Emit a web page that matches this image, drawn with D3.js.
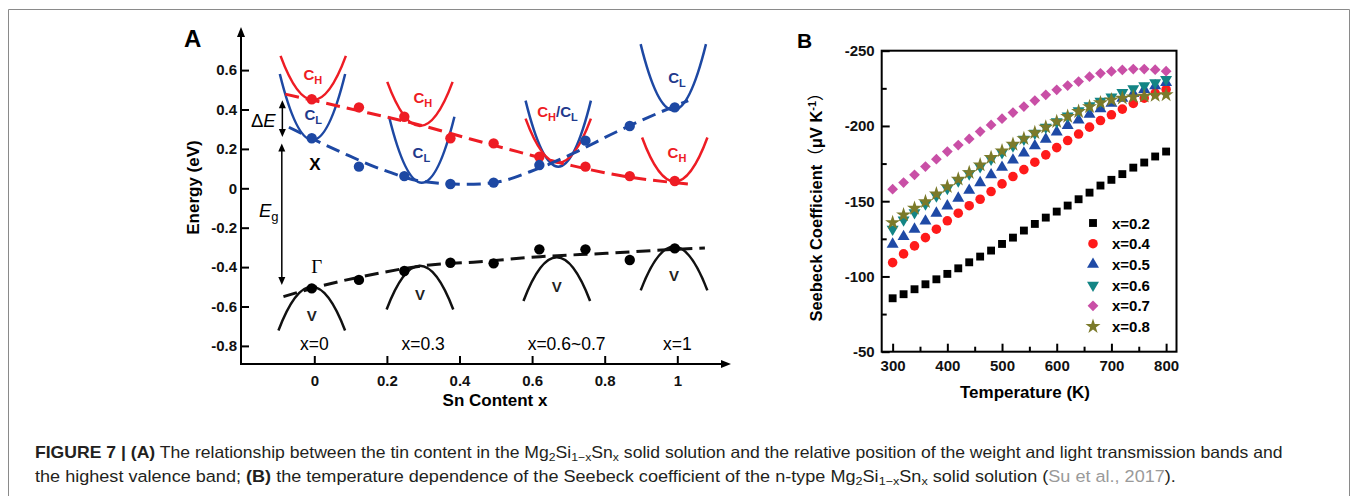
<!DOCTYPE html>
<html><head><meta charset="utf-8">
<script src="https://cdn.jsdelivr.net/npm/d3@7"></script>
<style>
body{margin:0;background:#fff;}
svg{display:block;font-family:"Liberation Sans",Arial,Helvetica,sans-serif;}
</style></head><body>
<svg id="c" width="1356" height="496"></svg>
<script>
// ================= DATA =================
// Panel A : band energies (eV) vs Sn content x
const snContent  = [-0.007, 0.123, 0.248, 0.375, 0.494, 0.620, 0.747, 0.869, 0.993];
const heavyCB    = [0.452, 0.411, 0.363, 0.254, 0.228, 0.160, 0.110, 0.062, 0.037];
const lightCB    = [0.254, 0.110, 0.062, 0.022, 0.029, 0.118, 0.242, 0.316, 0.411];
const valenceB   = [-0.508, -0.465, -0.420, -0.378, -0.381, -0.310, -0.310, -0.364, -0.305];
// dashed guide curves (x, E)
const heavyFitX  = [-0.08, 0.00, 0.15, 0.29, 0.43, 0.56, 0.71, 0.86, 1.03];
const heavyFitE  = [0.478, 0.445, 0.382, 0.322, 0.250, 0.186, 0.115, 0.059, 0.022];
const lightFitX  = [-0.07, 0.08, 0.19, 0.30, 0.42, 0.50, 0.594, 0.714, 0.833, 0.99, 1.03];
const lightFitE  = [0.310, 0.178, 0.093, 0.034, 0.020, 0.030, 0.084, 0.178, 0.287, 0.415, 0.445];
const valFitX    = [-0.085, 0.00, 0.153, 0.319, 0.438, 0.622, 0.805, 0.989, 1.076];
const valFitE    = [-0.550, -0.505, -0.440, -0.389, -0.375, -0.347, -0.330, -0.310, -0.303];
// schematic band minima/maxima (x, E)
const cHBandX = [-0.003, 0.291, 0.672, 0.993];
const cHBandE = [0.448, 0.316, 0.130, 0.034];
const cLBandX = [-0.005, 0.296, 0.672, 0.989];
const cLBandE = [0.245, 0.028, 0.110, 0.397];
const vBandX  = [-0.007, 0.291, 0.668, 0.991];
const vBandE  = [-0.500, -0.393, -0.350, -0.296];
const compLabels = ["x=0", "x=0.3", "x=0.6~0.7", "x=1"];
const compLabelX = [0, 0.30, 0.695, 1.0];
const yTickValsA = [-0.8, -0.6, -0.4, -0.2, 0, 0.2, 0.4, 0.6];
const yTickLabelsA = ["-0.8", "-0.6", "-0.4", "-0.2", "0", "0.2", "0.4", "0.6"];
const xTickValsA = [0, 0.2, 0.4, 0.6, 0.8, 1];
const xTickLabelsA = ["0", "0.2", "0.4", "0.6", "0.8", "1"];

// Panel B : Seebeck coefficient (µV/K) vs temperature (K)
const temperatureK = [300,320,340,360,380,400,420,440,460,480,500,520,540,560,580,600,620,640,660,680,700,720,740,760,780,800];
const seebeck02 = [-85.5,-88.2,-91.5,-94.8,-98.1,-101.7,-105.4,-109.4,-113.2,-117.2,-121.6,-125.8,-130.5,-134.9,-139.1,-143.1,-147.1,-151.3,-155.7,-160.4,-164.2,-168.0,-172.3,-175.7,-179.7,-183.0];
const seebeck04 = [-109.2,-115.0,-120.3,-125.8,-131.4,-137.0,-142.0,-147.0,-151.3,-156.4,-161.5,-166.4,-171.0,-175.9,-180.8,-185.6,-190.3,-194.6,-199.2,-203.6,-207.4,-211.2,-215.0,-218.5,-221.8,-224.3];
const seebeck05 = [-121.4,-126.5,-131.4,-136.8,-142.0,-146.8,-152.0,-157.2,-162.3,-167.5,-172.5,-177.3,-182.0,-186.8,-191.2,-196.0,-200.2,-204.0,-207.8,-211.4,-215.0,-218.3,-221.5,-224.2,-226.6,-228.8];
const seebeck06 = [-131.4,-137.6,-142.4,-148.2,-153.5,-158.5,-163.5,-168.2,-173.0,-178.0,-182.3,-186.8,-191.2,-195.2,-199.2,-202.9,-206.7,-210.2,-213.4,-216.4,-219.3,-222.2,-224.8,-226.8,-228.8,-230.9];
const seebeck07 = [-158.0,-162.4,-167.5,-173.0,-177.9,-183.0,-187.3,-191.4,-196.3,-200.7,-204.8,-208.9,-212.9,-216.9,-220.7,-224.0,-226.8,-229.5,-232.7,-235.0,-236.2,-237.2,-237.8,-237.8,-237.4,-236.4];
const seebeck08 = [-135.8,-140.9,-145.3,-149.7,-154.8,-159.7,-164.6,-169.0,-174.1,-179.0,-183.4,-187.8,-191.6,-195.5,-199.2,-202.9,-206.3,-209.6,-212.8,-215.4,-217.3,-218.5,-219.3,-219.8,-220.3,-220.7];
const seriesNames = ["x=0.2", "x=0.4", "x=0.5", "x=0.6", "x=0.7", "x=0.8"];
const xTickValsB = [300, 400, 500, 600, 700, 800];
const xTickLabelsB = ["300", "400", "500", "600", "700", "800"];
const xMinorB = [350, 450, 550, 650, 750];
const yTickValsB = [-250, -200, -150, -100, -50];
const yTickLabelsB = ["-250", "-200", "-150", "-100", "-50"];
const yMinorB = [-225, -175, -125, -75];

// ================= DRAW =================
const svg = d3.select("#c");
const RED = "#ee1c24", BLUE = "#1d48a3", NAVY = "#1f3a8c";
const FONT = '"Liberation Sans",Arial,sans-serif';

// figure frame
svg.append("path").attr("d","M8.5,496 V9.5 H1349.5 V496").attr("fill","none").attr("stroke","#8a8a8a").attr("stroke-width",1);

// ---------- Panel A ----------
const xA = d3.scaleLinear().domain([0,1]).range([314.3,677.3]);
const yA = d3.scaleLinear().domain([0,0.6]).range([188.3,70.1]);
const gA = svg.append("g");

// axes
const yAxA = d3.axisLeft(yA).tickValues(yTickValsA).tickFormat((d,i)=>yTickLabelsA[i]).tickSize(-8).tickSizeOuter(0).tickPadding(4);
const gy = gA.append("g").attr("transform","translate(241,0)").call(yAxA);
const xAxA = d3.axisBottom(xA).tickValues(xTickValsA).tickFormat((d,i)=>xTickLabelsA[i]).tickSize(-8).tickSizeOuter(0).tickPadding(11);
const gx = gA.append("g").attr("transform","translate(0,364)").call(xAxA);
[gy,gx].forEach(g=>{
  g.select(".domain").remove();
  g.selectAll(".tick line").attr("stroke","#000").attr("stroke-width",2);
  g.selectAll(".tick text").attr("fill","#111").style("font-family",FONT).style("font-size","15px").style("font-weight","bold");
});
gA.append("line").attr("x1",241).attr("x2",241).attr("y1",365).attr("y2",34).attr("stroke","#000").attr("stroke-width",2);
gA.append("line").attr("x1",240).attr("x2",724).attr("y1",364).attr("y2",364).attr("stroke","#000").attr("stroke-width",2);
gA.append("path").attr("d","M241,27 L237,37 L245,37 Z").attr("fill","#000");
gA.append("path").attr("d","M731,364 L721,360 L721,368 Z").attr("fill","#000");

gA.append("text").attr("transform","translate(199,187.5) rotate(-90)").attr("text-anchor","middle")
  .style("font-size","17px").style("font-weight","bold").text("Energy (eV)");
gA.append("text").attr("x",495).attr("y",406).attr("text-anchor","middle")
  .style("font-size","17px").style("font-weight","bold").text("Sn Content x");
gA.append("text").attr("x",184).attr("y",47).style("font-size","24px").style("font-weight","bold").text("A");

// schematic bands (quadratic bezier = parabola)
const HW = 0.09, RISE_H = 0.224, RISE_L = 0.335, DROP_V = 0.222;
function para(x0,e0,hw,rise){
  return `M${xA(x0-hw)},${yA(e0+rise)} Q${xA(x0)},${yA(e0-rise)} ${xA(x0+hw)},${yA(e0+rise)}`;
}
cLBandX.forEach((x,i)=>gA.append("path").attr("d",para(x,cLBandE[i],HW,RISE_L)).attr("fill","none").attr("stroke",BLUE).attr("stroke-width",2.5));
cHBandX.forEach((x,i)=>gA.append("path").attr("d",para(x,cHBandE[i],HW,RISE_H)).attr("fill","none").attr("stroke",RED).attr("stroke-width",2.5));
vBandX.forEach((x,i)=>gA.append("path").attr("d",para(x,vBandE[i],HW*1.02,-DROP_V)).attr("fill","none").attr("stroke","#111").attr("stroke-width",2.5));

// dashed guides
const lineA = d3.line().x(d=>xA(d[0])).y(d=>yA(d[1])).curve(d3.curveMonotoneX);
[[heavyFitX,heavyFitE,RED],[lightFitX,lightFitE,BLUE],[valFitX,valFitE,"#111"]].forEach(([xs,es,c])=>{
  gA.append("path").attr("d",lineA(xs.map((x,i)=>[x,es[i]]))).attr("fill","none")
    .attr("stroke",c).attr("stroke-width",3).attr("stroke-dasharray","14,7");
});
// dots
[[heavyCB,RED],[lightCB,BLUE],[valenceB,"#000"]].forEach(([es,c])=>{
  gA.selectAll(null).data(snContent).join("circle").attr("cx",d=>xA(d)).attr("cy",(d,i)=>yA(es[i])).attr("r",5.2).attr("fill",c);
});

// band labels
function bandLabel(x,yb,parts){
  const t = gA.append("text").attr("x",xA(x)).attr("y",yA(yb)).attr("text-anchor","middle")
    .style("font-size","15px").style("font-weight","bold");
  parts.forEach(p=>{
    const s = t.append("tspan").text(p.t).attr("fill",p.c);
    if(p.sub){ s.attr("dy",4).style("font-size","11px"); }
    if(p.up){ s.attr("dy",-4); }
  });
}
const CH = [{t:"C",c:RED},{t:"H",c:RED,sub:true}];
const CL = [{t:"C",c:NAVY},{t:"L",c:NAVY,sub:true}];
bandLabel(-0.004,0.55,CH);
bandLabel(-0.003,0.347,CL);
bandLabel(0.299,0.435,CH);
bandLabel(0.295,0.154,CL);
bandLabel(0.67,0.363,[{t:"C",c:RED},{t:"H",c:RED,sub:true},{t:"/",c:NAVY,up:true},{t:"C",c:NAVY},{t:"L",c:NAVY,sub:true}]);
bandLabel(0.999,0.536,CL);
bandLabel(0.999,0.153,CH);
vBandX.forEach((x,i)=>{
  gA.append("text").attr("x",xA(x)).attr("y",yA(vBandE[i]-0.175)).attr("text-anchor","middle")
    .style("font-size","15px").style("font-weight","bold").attr("fill","#222").text("V");
});
gA.append("text").attr("x",xA(0.002)).attr("y",yA(0.093)).attr("text-anchor","middle")
  .style("font-size","17px").style("font-weight","bold").text("X");
gA.append("text").attr("x",xA(0.007)).attr("y",yA(-0.431)).attr("text-anchor","middle")
  .style("font-family",'"Liberation Serif","Times New Roman",serif').style("font-size","19px").text("Γ");
compLabels.forEach((l,i)=>{
  gA.append("text").attr("x",xA(compLabelX[i])).attr("y",yA(-0.821)).attr("text-anchor","middle")
    .style("font-size","17.5px").text(l);
});

// ΔE and Eg arrows
function dArrow(x,e1,e2){
  const X = xA(x), y1 = yA(e1), y2 = yA(e2);
  gA.append("line").attr("x1",X).attr("x2",X).attr("y1",y1+4).attr("y2",y2-4).attr("stroke","#000").attr("stroke-width",1.5);
  gA.append("path").attr("d",`M${X},${y1} L${X-3.5},${y1+8} L${X+3.5},${y1+8} Z`).attr("fill","#000");
  gA.append("path").attr("d",`M${X},${y2} L${X-3.5},${y2-8} L${X+3.5},${y2-8} Z`).attr("fill","#000");
}
dArrow(-0.088, 0.447, 0.261);
dArrow(-0.0895, 0.228, -0.491);
const dE = gA.append("text").attr("x",251).attr("y",127).style("font-size","18.5px");
dE.append("tspan").text("Δ");
dE.append("tspan").style("font-style","italic").text("E");
const eg = gA.append("text").attr("x",259).attr("y",217).style("font-size","18.5px");
eg.append("tspan").style("font-style","italic").text("E");
eg.append("tspan").attr("dy",4).style("font-size","13px").text("g");

// ---------- Panel B ----------
const xB = d3.scaleLinear().domain([280,819]).range([881.7,1176.5]);
const yB = d3.scaleLinear().domain([-50,-250]).range([351.7,50.7]);
const gB = svg.append("g");
const yAxB = d3.axisLeft(yB).tickValues(yTickValsB).tickFormat((d,i)=>yTickLabelsB[i]).tickSize(-8).tickSizeOuter(0).tickPadding(7);
const yAxBm = d3.axisLeft(yB).tickValues(yMinorB).tickFormat("").tickSize(-5).tickSizeOuter(0);
const xAxB = d3.axisBottom(xB).tickValues(xTickValsB).tickFormat((d,i)=>xTickLabelsB[i]).tickSize(-8).tickSizeOuter(0).tickPadding(9);
const xAxBm = d3.axisBottom(xB).tickValues(xMinorB).tickFormat("").tickSize(-5).tickSizeOuter(0);
const gs = [
  gB.append("g").attr("transform","translate(881.7,0)").call(yAxB),
  gB.append("g").attr("transform","translate(881.7,0)").call(yAxBm),
  gB.append("g").attr("transform","translate(0,351.7)").call(xAxB),
  gB.append("g").attr("transform","translate(0,351.7)").call(xAxBm)
];
gs.forEach(g=>{
  g.select(".domain").remove();
  g.selectAll(".tick line").attr("stroke","#000").attr("stroke-width",2);
  g.selectAll(".tick text").attr("fill","#111").style("font-family",FONT).style("font-size","15px").style("font-weight","bold");
});
gB.append("rect").attr("x",xB(280)).attr("y",yB(-250)).attr("width",xB(819)-xB(280)).attr("height",yB(-50)-yB(-250))
  .attr("fill","none").attr("stroke","#000").attr("stroke-width",2);

const seriesVals = [seebeck02, seebeck04, seebeck05, seebeck06, seebeck07, seebeck08];
const seriesStyle = [
  {color:"#000000", type:d3.symbolSquare, size:62, rot:0},
  {color:"#ff1a1a", type:d3.symbolCircle, size:72, rot:0},
  {color:"#1f4aa6", type:d3.symbolTriangle, size:62, rot:0},
  {color:"#138585", type:d3.symbolTriangle, size:62, rot:180},
  {color:"#c94fa6", type:d3.symbolSquare, size:58, rot:45},
  {color:"#7b7a2a", type:d3.symbolStar, size:70, rot:0}
];
seriesVals.forEach((vals,k)=>{
  const st = seriesStyle[k];
  const sym = d3.symbol().type(st.type).size(st.size);
  gB.append("g").selectAll("path").data(temperatureK).join("path")
    .attr("d",sym)
    .attr("transform",(d,i)=>`translate(${xB(d)},${yB(vals[i])}) rotate(${st.rot})`)
    .attr("fill",st.color);
});
// legend
seriesNames.forEach((n,k)=>{
  const st = seriesStyle[k];
  const yy = 223 + k*20.7;
  gB.append("path").attr("d",d3.symbol().type(st.type).size(st.size)())
    .attr("transform",`translate(1093,${yy}) rotate(${st.rot})`).attr("fill",st.color);
  gB.append("text").attr("x",1112).attr("y",yy+5.5).style("font-size","15px").style("font-weight","bold").text(n);
});
gB.append("text").attr("x",1025).attr("y",398).attr("text-anchor","middle")
  .style("font-size","17px").style("font-weight","bold").text("Temperature (K)");
const yt = gB.append("text").attr("transform","translate(822,203) rotate(-90)").attr("text-anchor","middle")
  .style("font-size","16.5px").style("font-weight","bold");
yt.append("tspan").text("Seebeck Coefficient");
yt.append("tspan").style("font-family",'"Noto Sans CJK SC",sans-serif').style("font-weight","normal").text("（");
yt.append("tspan").text("μV K");
yt.append("tspan").attr("dy",-6).style("font-size","11px").text("-1");
yt.append("tspan").attr("dy",6).style("font-family",'"Noto Sans CJK SC",sans-serif').style("font-weight","normal").text("）");
gB.append("text").attr("x",797).attr("y",47.5).style("font-size","21px").style("font-weight","bold").text("B");

// ---------- Caption ----------
function richLine(parts){
  const t = svg.append("text").attr("x",0).attr("y",0).style("font-size","16.5px").attr("fill","#231f20");
  parts.forEach(p=>{
    const s = t.append("tspan").text(p.t);
    if(p.b) s.style("font-weight","bold");
    if(p.c) s.attr("fill",p.c);
    if(p.sub){ s.attr("dy",3.5).style("font-size","11.5px"); }
    if(p.back){ s.attr("dy",-3.5); }
  });
  return t;
}
const formula = [{t:"Mg"},{t:"2",sub:true},{t:"Si",back:true},{t:"1−x",sub:true},{t:"Sn",back:true},{t:"x",sub:true}];
const l1 = richLine([{t:"FIGURE 7 | (A)",b:true},{t:" The relationship between the tin content in the "},...formula,
  {t:" solid solution and the relative position of the weight and light transmission bands and",back:true}]);
const l2 = richLine([{t:"the highest valence band; "},{t:"(B)",b:true},{t:" the temperature dependence of the Seebeck coefficient of the n-type "},...formula,
  {t:" solid solution (",back:true},{t:"Su et al., 2017",c:"#9a9a9a"},{t:")."}]);
const k1 = (1283-35)/l1.node().getComputedTextLength();
const k2 = (1177-35)/l2.node().getComputedTextLength();
l1.attr("transform",`translate(35,457.5) scale(${k1},1)`);
l2.attr("transform",`translate(35,481.5) scale(${k2},1)`);
</script>
</body></html>
